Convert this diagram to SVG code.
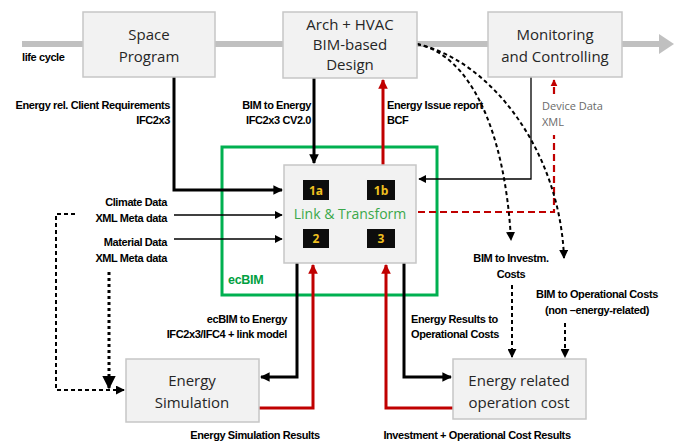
<svg xmlns="http://www.w3.org/2000/svg" width="674" height="443" viewBox="0 0 674 443">
<style>
.box{fill:#f2f2f2;stroke:#c6c6c6;stroke-width:1.5}
.bt{font-family:"Open Sans","Liberation Sans",sans-serif;font-size:15px;fill:#262626;text-anchor:middle}
.lb{font-family:"Liberation Sans",Arial,sans-serif;font-size:11px;font-weight:bold;fill:#000;letter-spacing:-0.4px}
.blk{fill:none;stroke:#000;stroke-width:3}
.thin{fill:none;stroke:#000;stroke-width:1.3}
.red{fill:none;stroke:#c00000;stroke-width:3}
.dash{fill:none;stroke:#000;stroke-width:2;stroke-dasharray:4,3}
.dot{fill:none;stroke:#000;stroke-width:3;stroke-dasharray:3,3}
.rdash{fill:none;stroke:#c00000;stroke-width:2.2;stroke-dasharray:7,4}
.badge{fill:#0d0d0d}
.bdt{font-family:"Open Sans","Liberation Sans",sans-serif;font-size:12px;font-weight:bold;fill:#f0c020;text-anchor:middle}
</style>
<defs>
<marker id="ab" viewBox="0 0 10 10" refX="9" refY="5" markerWidth="3.2" markerHeight="3.2" orient="auto" markerUnits="strokeWidth"><path d="M0,0 L10,5 L0,10 z" fill="#000"/></marker>
<marker id="abt" viewBox="0 0 10 10" refX="9" refY="5" markerWidth="6" markerHeight="6" orient="auto" markerUnits="strokeWidth"><path d="M0,0 L10,5 L0,10 z" fill="#000"/></marker>
<marker id="ar" viewBox="0 0 10 10" refX="9" refY="5" markerWidth="3.2" markerHeight="3.2" orient="auto" markerUnits="strokeWidth"><path d="M0,0 L10,5 L0,10 z" fill="#c00000"/></marker>
<marker id="ad" viewBox="0 0 10 10" refX="9" refY="5" markerWidth="4.5" markerHeight="4.5" orient="auto" markerUnits="strokeWidth"><path d="M0,0 L10,5 L0,10 z" fill="#000"/></marker>
</defs>
<rect width="674" height="443" fill="#fff"/>

<g id="lifecycle">
<line x1="22" y1="44" x2="660" y2="44" stroke="#c0c0c0" stroke-width="6"/>
<path d="M659,34 L674,44 L659,54 z" fill="#c0c0c0"/>
<text x="22" y="61" class="lb">life cycle</text>
</g>

<g id="ecbim">
<rect x="222" y="147" width="215" height="148" fill="none" stroke="#00b050" stroke-width="3"/>
<text x="228" y="284" font-family="Liberation Sans,Arial,sans-serif" font-size="12.5" font-weight="bold" fill="#00a040" letter-spacing="-0.3">ecBIM</text>
</g>

<g id="connectors">
<path class="blk" d="M174,77 V190 H282" marker-end="url(#ab)"/>
<path class="blk" d="M314,78 V163" marker-end="url(#ab)"/>
<path class="red" d="M383,165 V80" marker-end="url(#ar)"/>
<path class="thin" d="M174,215 H282" marker-end="url(#abt)"/>
<path class="thin" d="M174,239 H282" marker-end="url(#abt)"/>
<path class="thin" d="M531,77 V179 H419" marker-end="url(#abt)"/>
<path class="rdash" d="M418,212 H554 V135"/>
<path class="rdash" d="M554,94 V80" marker-end="url(#ar)"/>
<path class="dash" d="M417,44 C470,55 505,130 511,240" marker-end="url(#ad)"/>
<path class="dash" d="M417,44 C490,60 560,150 564,258" marker-end="url(#ad)"/>
<path class="dash" d="M512,285 V357" marker-end="url(#ad)"/>
<path class="dash" d="M565,323 V357" marker-end="url(#ad)"/>
<path class="blk" d="M297,263 V377 H261" marker-end="url(#ab)"/>
<path class="red" d="M259,408 H313 V265" marker-end="url(#ar)"/>
<path class="blk" d="M404,263 V377 H451" marker-end="url(#ab)"/>
<path class="red" d="M453,408 H386 V265" marker-end="url(#ar)"/>
<path class="dash" d="M75,214 H56 V390 H124" marker-end="url(#ad)"/>
<path class="dot" d="M109,272 V388" marker-end="url(#ad)"/>
</g>

<g id="space-program">
<rect class="box" x="83" y="12" width="132" height="65"/>
<text class="bt" x="149" y="40">Space</text>
<text class="bt" x="149" y="62">Program</text>
</g>

<g id="arch-design">
<rect class="box" x="283" y="12" width="134" height="66"/>
<text class="bt" x="350" y="30">Arch + HVAC</text>
<text class="bt" x="350" y="50">BIM-based</text>
<text class="bt" x="350" y="70">Design</text>
</g>

<g id="monitoring">
<rect class="box" x="488" y="12" width="134" height="65"/>
<text class="bt" x="555" y="40">Monitoring</text>
<text class="bt" x="555" y="62">and Controlling</text>
</g>

<g id="link-transform">
<rect class="box" x="284" y="165" width="132" height="98"/>
<rect class="badge" x="303" y="180" width="26" height="20"/>
<text class="bdt" x="316" y="195">1a</text>
<rect class="badge" x="367" y="180" width="28" height="20"/>
<text class="bdt" x="381" y="195">1b</text>
<rect class="badge" x="303" y="229" width="26" height="19"/>
<text class="bdt" x="316" y="243">2</text>
<rect class="badge" x="367" y="229" width="28" height="19"/>
<text class="bdt" x="381" y="243">3</text>
<text x="350" y="219" font-family="Open Sans,Liberation Sans,sans-serif" font-size="14" fill="#3aa84a" text-anchor="middle">Link &amp; Transform</text>
</g>

<g id="energy-sim">
<rect class="box" x="126" y="359" width="133" height="63"/>
<text class="bt" x="192" y="386">Energy</text>
<text class="bt" x="192" y="408">Simulation</text>
</g>

<g id="op-cost">
<rect class="box" x="453" y="359" width="133" height="60"/>
<text class="bt" x="519" y="386">Energy related</text>
<text class="bt" x="519" y="408">operation cost</text>
</g>

<g id="labels">
<text class="lb" x="170" y="109" text-anchor="end">Energy rel. Client Requirements</text>
<text class="lb" x="170" y="124" text-anchor="end">IFC2x3</text>
<text class="lb" x="311" y="109" text-anchor="end">BIM to Energy</text>
<text class="lb" x="311" y="124" text-anchor="end">IFC2x3 CV2.0</text>
<text class="lb" x="387" y="109">Energy Issue report</text>
<text class="lb" x="387" y="124">BCF</text>
<text x="542" y="110" font-family="Open Sans,Liberation Sans,sans-serif" font-size="11" fill="#6a6a6a">Device Data</text>
<text x="542" y="126" font-family="Open Sans,Liberation Sans,sans-serif" font-size="11" fill="#6a6a6a">XML</text>
<text class="lb" x="167" y="206" text-anchor="end">Climate Data</text>
<text class="lb" x="167" y="222" text-anchor="end">XML Meta data</text>
<text class="lb" x="167" y="246" text-anchor="end">Material Data</text>
<text class="lb" x="167" y="262" text-anchor="end">XML Meta data</text>
<text class="lb" x="511" y="262" text-anchor="middle">BIM to Investm.</text>
<text class="lb" x="511" y="278" text-anchor="middle">Costs</text>
<text class="lb" x="597" y="298" text-anchor="middle">BIM to Operational Costs</text>
<text class="lb" x="597" y="314" text-anchor="middle">(non –energy-related)</text>
<text class="lb" x="287" y="323" text-anchor="end">ecBIM to Energy</text>
<text class="lb" x="287" y="338" text-anchor="end">IFC2x3/IFC4 + link model</text>
<text class="lb" x="411" y="323">Energy Results to</text>
<text class="lb" x="411" y="338">Operational Costs</text>
<text class="lb" x="255" y="439" text-anchor="middle">Energy Simulation Results</text>
<text class="lb" x="477" y="439" text-anchor="middle">Investment + Operational Cost Results</text>
</g>
</svg>
